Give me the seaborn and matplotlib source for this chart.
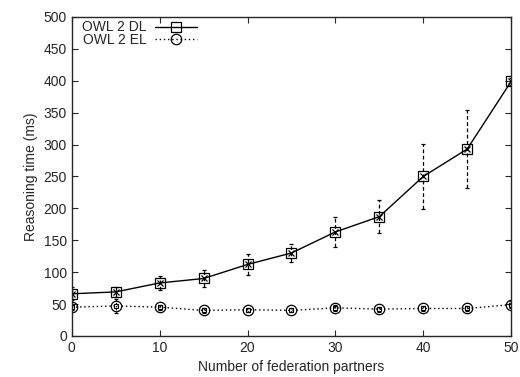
import matplotlib
matplotlib.use("Agg")
import matplotlib.pyplot as plt
import pandas as pd
import seaborn as sns

# valores
partners = [0, 5, 10, 15, 20, 25, 30, 35, 40, 45, 50]
dl_time = [66, 69, 83, 90, 112, 130, 163, 187, 250, 293, 399]
dl_err = [10, 8, 11, 13, 17, 14, 23, 26, 51, 61, 5]
el_time = [45, 47, 45, 40, 41, 40, 44, 42, 43, 43, 49]
el_err = [4, 11, 4, 4, 3, 3, 5, 4, 4, 4, 6]

sns.set_style("ticks")
plt.rcParams['font.family'] = ['Liberation Sans', 'DejaVu Sans']
plt.rcParams['font.size'] = 10

df = pd.DataFrame({
    "partners": partners * 2,
    "time": dl_time + el_time,
    "serie": ["OWL 2 DL"] * len(partners) + ["OWL 2 EL"] * len(partners),
})

fig = plt.figure(figsize=(5.2, 3.77), dpi=100)
ax = fig.add_axes([0.138, 0.109, 0.845, 0.846])

# barras de error (discontinuas / punteadas)
e1 = ax.errorbar(partners, dl_time, yerr=dl_err, fmt="none", ecolor="black",
                 elinewidth=0.9, capsize=1.5, capthick=0.9)
e1[2][0].set_linestyle((0, (3, 2)))
e2 = ax.errorbar(partners, el_time, yerr=el_err, fmt="none", ecolor="black",
                 elinewidth=0.9, capsize=1.5, capthick=0.9)
e2[2][0].set_linestyle((0, (1, 1.5)))

sns.lineplot(data=df, x="partners", y="time", hue="serie", style="serie",
             palette=["black", "black"], markers={"OWL 2 DL": "s", "OWL 2 EL": "o"},
             dashes={"OWL 2 DL": "", "OWL 2 EL": (1, 2)},
             markersize=7.5, markerfacecolor="none", markeredgecolor="black",
             markeredgewidth=0.9, linewidth=1, ax=ax, legend=True)

# puntos interiores (cruz y cuadradito)
ax.plot(partners, dl_time, "x", color="black", markersize=4, markeredgewidth=0.9)
ax.plot(partners, el_time, "s", color="black", markersize=3.5, markerfacecolor="none",
        markeredgewidth=0.8)

ax.set_xlim(0, 50)
ax.set_ylim(0, 500)
ax.set_xticks(range(0, 51, 10))
ax.set_yticks(range(0, 501, 50))
ax.tick_params(direction="in", top=True, right=True, length=4, width=0.8, labelsize=10)
for s in ax.spines.values():
    s.set_visible(True)
    s.set_linewidth(1)
ax.set_xlabel("Number of federation partners", fontsize=10)
ax.set_ylabel("Reasoning time (ms)", fontsize=10)

leg = ax.legend(loc="upper left", bbox_to_anchor=(0.016, 1.0), frameon=False,
                markerfirst=False, fontsize=10, handlelength=3, labelspacing=-0.1,
                borderaxespad=0.05, handletextpad=0.6, borderpad=0.2)

plt.savefig("out.png", dpi=100)
